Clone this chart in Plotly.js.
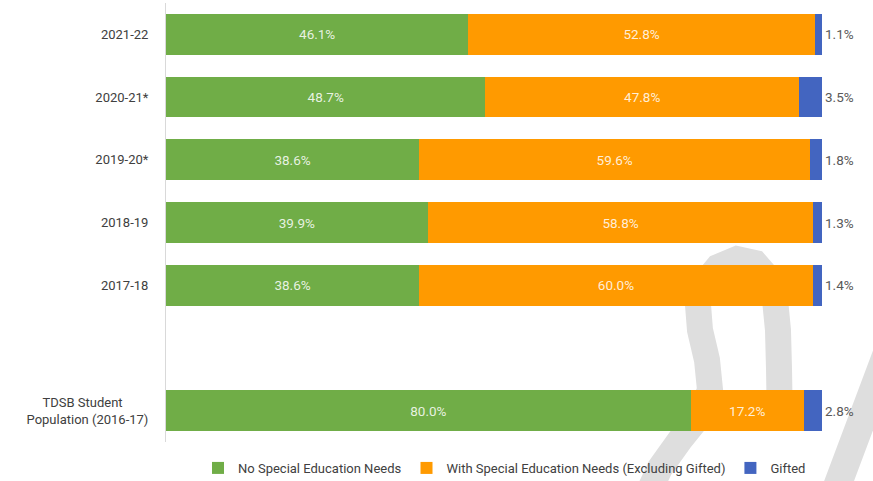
<!DOCTYPE html>
<html>
<head>
<meta charset="utf-8">
<script src="https://cdn.plot.ly/plotly-3.0.1.min.js"></script>
<style>html,body{margin:0;padding:0;background:#fff;}#chart{width:873px;height:481px;}</style>
</head>
<body>
<div id="chart"></div>
<script>
// Top-to-bottom; the empty entry is a spacer row
const categories = ['2021-22', '2020-21*', '2019-20*', '2018-19', '2017-18', '', 'TDSB Student<br>Population (2016-17)'];
const noSpecial   = [46.1, 48.7, 38.6, 39.9, 38.6, null, 80.0];
const withSpecial = [52.8, 47.8, 59.6, 58.8, 60.0, null, 17.2];
const gifted      = [1.1, 3.5, 1.8, 1.3, 1.4, null, 2.8];
const seriesNames = ['No Special Education Needs', 'With Special Education Needs (Excluding Gifted)', 'Gifted'];

const FONT = 'Roboto, "Liberation Sans", sans-serif';
const yPos = categories.map((c, i) => i);
const lbl = arr => arr.map(v => v == null ? '' : v.toFixed(1) + '%');
// tick labels are right-aligned by Plotly; pad short lines so multi-line labels look centred
const tickText = categories.map(c => {
  const lines = c.split('<br>');
  if (lines.length < 2) return c;
  const maxLen = Math.max(...lines.map(s => s.length));
  return lines.map(s => s + '\u00a0'.repeat(Math.round((maxLen - s.length) * 1.0))).join('<br>');
});

function barTrace(vals, name, color, pos, tcolor) {
  return {
    type: 'bar', orientation: 'h', name: name,
    x: vals, y: yPos,
    marker: {color: color},
    width: 0.65,
    text: lbl(vals),
    textposition: pos,
    insidetextanchor: 'middle',
    textfont: {family: FONT, size: 13.5, color: tcolor},
    cliponaxis: false,
    hoverinfo: 'x+name'
  };
}

const data = [
  barTrace(noSpecial, seriesNames[0], '#70AD47', 'inside', 'rgba(255,255,255,0.85)'),
  barTrace(withSpecial, seriesNames[1], '#FF9A00', 'inside', 'rgba(255,255,255,0.85)'),
  barTrace(gifted, seriesNames[2], '#4365C0', 'outside', '#595959')
];

// watermark (decorative), pixel -> paper helper
const L = 166, R = 822, T = 3, B = 442;
const P = (x, y) => ((x - L) / (R - L)).toFixed(4) + ',' + ((B - y) / (B - T)).toFixed(4);
const poly = pts => pts.map((p, i) => (i ? 'L' : 'M') + P(p[0], p[1])).join(' ');
const wmPath1 = poly([[645,500],[660,468],[680,440],[700,415],[710,390],[707,360],[700,330],[698,305],
  [704,284],[718,267],[737,259],[755,263],[768,278],[775,300],[778,330],[779,370],[780,430]]);
const wmPath2 = poly([[890,345],[832,500]]);

const layout = {
  width: 873, height: 481,
  margin: {l: 166, r: 51, t: 3, b: 39, autoexpand: false},
  paper_bgcolor: '#ffffff', plot_bgcolor: 'rgba(0,0,0,0)',
  barmode: 'stack',
  showlegend: true,
  legend: {
    orientation: 'h', x: 0.516, xanchor: 'center', y: -0.025, yanchor: 'top',
    font: {family: FONT, size: 13, color: '#404040'},
    traceorder: 'normal', itemwidth: 30, bgcolor: 'rgba(0,0,0,0)'
  },
  xaxis: {range: [0, 100], visible: false, fixedrange: true},
  yaxis: {
    range: [6.5, -0.5],
    tickvals: yPos, ticktext: tickText,
    showgrid: false, zeroline: false,
    showline: true, linecolor: '#d9d9d9', linewidth: 1,
    ticks: '', ticklabelstandoff: 14,
    tickfont: {family: FONT, size: 13, color: '#404040'}
  },
  shapes: [
    {type: 'path', path: wmPath1, xref: 'paper', yref: 'paper', layer: 'between',
     line: {color: '#dedede', width: 26}},
    {type: 'path', path: wmPath2, xref: 'paper', yref: 'paper', layer: 'between',
     line: {color: '#dedede', width: 28}}
  ]
};

Plotly.newPlot('chart', data, layout, {displayModeBar: false, staticPlot: true});
</script>
</body>
</html>
